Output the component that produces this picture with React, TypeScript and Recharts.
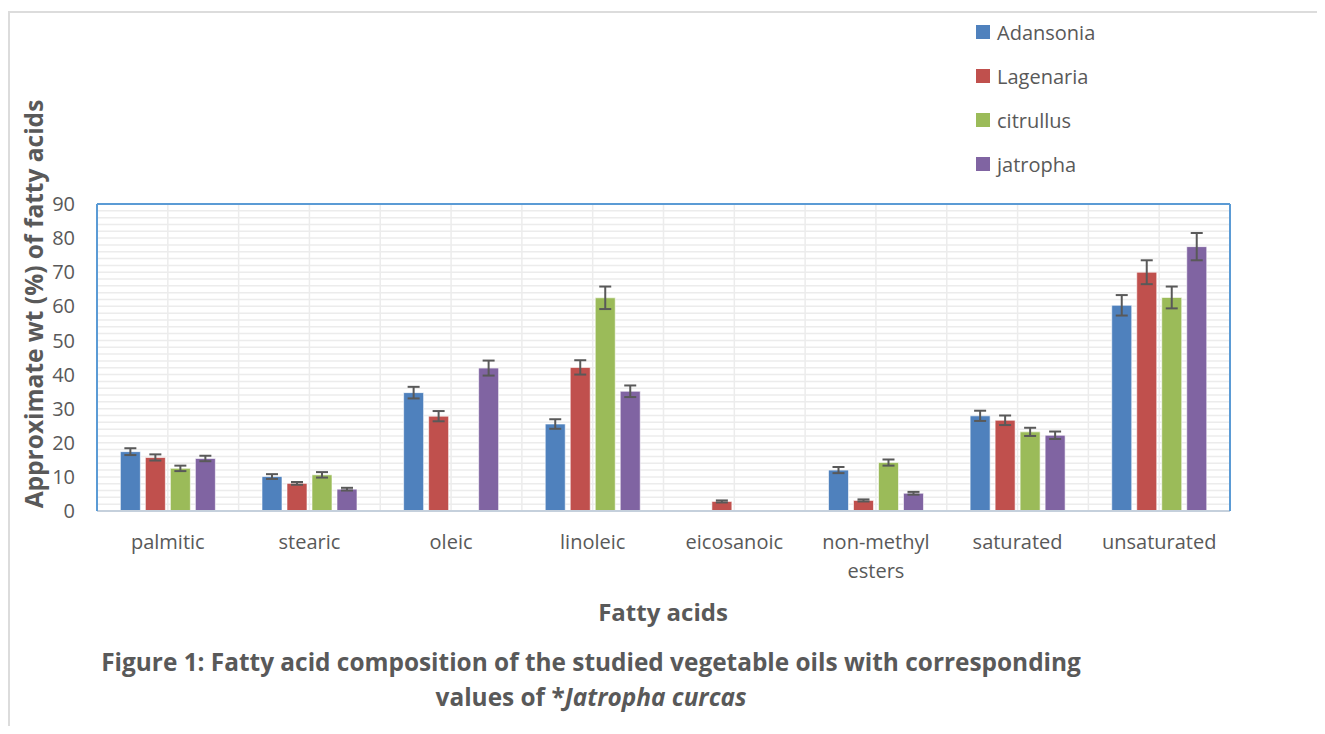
import React from 'react';
import {
    BarChart,
    Bar,
    XAxis,
    YAxis,
    CartesianGrid,
    ErrorBar,
    Legend,
    ReferenceLine
} from 'recharts';

const categories = ['palmitic', 'stearic', 'oleic', 'linoleic', 'eicosanoic', 'non-methyl esters', 'saturated', 'unsaturated'];

const adansonia = [17.4, 10.1, 34.7, 25.5, 0, 12.0, 27.9, 60.3];
const adansoniaErr = [1.0, 0.7, 1.7, 1.4, 0, 0.9, 1.5, 3.0];
const lagenaria = [15.7, 8.1, 27.8, 42.1, 2.8, 3.1, 26.6, 70.0];
const lagenariaErr = [0.9, 0.4, 1.5, 2.1, 0.3, 0.3, 1.4, 3.5];
const citrullus = [12.5, 10.6, 0, 62.5, 0, 14.2, 23.2, 62.6];
const citrullusErr = [0.8, 0.8, 0, 3.3, 0, 0.9, 1.2, 3.2];
const jatropha = [15.4, 6.4, 41.9, 35.1, 0, 5.2, 22.2, 77.5];
const jatrophaErr = [0.8, 0.4, 2.2, 1.7, 0, 0.4, 1.1, 4.0];

const yTicks = [0, 10, 20, 30, 40, 50, 60, 70, 80, 90];
const yMax = 90;
const minorStep = 2;

const series = [
    { key: 'Adansonia', err: 'AdansoniaErr', color: '#4F81BD' },
    { key: 'Lagenaria', err: 'LagenariaErr', color: '#C0504D' },
    { key: 'citrullus', err: 'citrullusErr', color: '#9BBB59' },
    { key: 'jatropha', err: 'jatrophaErr', color: '#8064A2' },
];

const data = categories.map((name, i) => ({
    name,
    Adansonia: adansonia[i], AdansoniaErr: adansoniaErr[i],
    Lagenaria: lagenaria[i], LagenariaErr: lagenariaErr[i],
    citrullus: citrullus[i], citrullusErr: citrullusErr[i],
    jatropha: jatropha[i], jatrophaErr: jatrophaErr[i],
}));

const FONT = '"Open Sans", Lato, sans-serif';
const TEXT = '#595959';

// scale may come as a plain d3 function or wrapped, depending on recharts version
function asFn(sc: any): ((v: any) => number) | null {
    if (typeof sc === 'function') return sc;
    if (sc && typeof sc.map === 'function') return (v: any) => sc.map(v);
    if (sc && typeof sc.scale === 'function') return sc.scale;
    return null;
}

function CategoryTick(props: any) {
    const { x, y, payload } = props;
    const lines = String(payload.value).split(' ');
    return (
        <text x={x} y={y} textAnchor="middle" fill={TEXT} fontSize={20} fontFamily={FONT}>
            {lines.map((l, i) => (
                <tspan key={i} x={x} dy={i === 0 ? 30 : 29}>{l}</tspan>
            ))}
        </text>
    );
}

function LegendBox(props: any) {
    const items = props.payload || [];
    return (
        <div style={{ fontFamily: FONT, fontSize: 20, color: TEXT }}>
            {items.map((it: any) => (
                <div key={it.value} style={{ display: 'flex', alignItems: 'center', height: 44 }}>
                    <span style={{ width: 14, height: 14, background: it.color, marginRight: 7 }} />
                    <span>{it.value}</span>
                </div>
            ))}
        </div>
    );
}

export default function App() {
    const hGen = ({ yAxis, offset }: any) => {
        const f = asFn(yAxis?.scale);
        const out: number[] = [];
        for (let v = 0; v <= yMax; v += minorStep) {
            out.push(f ? f(v) : offset.top + offset.height * (1 - v / yMax));
        }
        return out;
    };
    const vGen = ({ xAxis, offset }: any) => {
        const sc = xAxis?.scale;
        const f = asFn(sc);
        const bw = sc && typeof sc.bandwidth === 'function' ? sc.bandwidth() : offset.width / categories.length;
        const out: number[] = [];
        categories.forEach((c, i) => {
            const x0 = f ? f(c) : offset.left + i * bw;
            out.push(x0, x0 + bw / 2);
        });
        out.push(offset.left + offset.width);
        return out;
    };

    return (
        <div style={{ position: 'relative', width: 1309, height: 718, fontFamily: FONT }}>
            <div style={{ position: 'absolute', left: 0, top: 3, right: 0, bottom: 0, borderTop: '2px solid #dcdcdc', borderLeft: '2px solid #dcdcdc' }} />
            <div style={{ position: 'absolute', left: 0, top: 0 }}>
                <BarChart
                    width={1309}
                    height={640}
                    data={data}
                    margin={{ top: 196, right: 86, bottom: 0, left: 29 }}
                    barCategoryGap="16.5%"
                    barGap={5}
                >
                    <CartesianGrid
                        stroke="#ececec"
                        strokeWidth={1.5}
                        horizontalCoordinatesGenerator={hGen}
                        verticalCoordinatesGenerator={vGen}
                    />
                    <XAxis
                        dataKey="name"
                        tick={<CategoryTick />}
                        tickLine={false}
                        axisLine={{ stroke: '#c5d0dc', strokeWidth: 2 }}
                        interval={0}
                        height={137}
                    />
                    <YAxis
                        domain={[0, yMax]}
                        ticks={yTicks}
                        interval={0}
                        width={60}
                        tickLine={false}
                        tickSize={0}
                        tickMargin={22}
                        axisLine={{ stroke: '#5B9BD5', strokeWidth: 2 }}
                        tick={{ fill: TEXT, fontSize: 20, fontFamily: FONT }}
                    />
                    <YAxis
                        yAxisId="r"
                        orientation="right"
                        domain={[0, yMax]}
                        width={1}
                        tick={false}
                        tickLine={false}
                        axisLine={{ stroke: '#5B9BD5', strokeWidth: 2 }}
                    />
                    <ReferenceLine y={yMax} stroke="#5B9BD5" strokeWidth={2} />
                    <Legend
                        content={<LegendBox />}
                        wrapperStyle={{ position: 'absolute', left: 968, top: 2, width: 200, height: 0, overflow: 'visible' }}
                    />
                    {series.map(s => (
                        <Bar key={s.key} dataKey={s.key} fill={s.color} stroke="#ffffff" strokeOpacity={0.6} strokeWidth={1} isAnimationActive={false}>
                            <ErrorBar dataKey={s.err} width={6} stroke="#595959" strokeWidth={2} direction="y" />
                        </Bar>
                    ))}
                </BarChart>
            </div>
            <div style={{ position: 'absolute', left: 25, top: 296, width: 0, height: 0 }}>
                <div style={{ position: 'absolute', transform: 'translate(-50%, -50%) rotate(-90deg)', whiteSpace: 'nowrap', fontWeight: 700, fontSize: 24.5, color: TEXT }}>
                    Approximate wt (%) of fatty acids
                </div>
            </div>
            <div style={{ position: 'absolute', left: 655, top: 603, transform: 'translate(-50%, -50%)', whiteSpace: 'nowrap', fontWeight: 700, fontSize: 24, color: TEXT }}>
                Fatty acids
            </div>
            <div style={{ position: 'absolute', left: 583, top: 636, transform: 'translateX(-50%)', whiteSpace: 'nowrap', textAlign: 'center', fontWeight: 700, fontSize: 24.4, color: TEXT, lineHeight: '35px' }}>
                Figure 1: Fatty acid composition of the studied vegetable oils with corresponding<br />
                values of *<i>Jatropha curcas</i>
            </div>
        </div>
    );
}
